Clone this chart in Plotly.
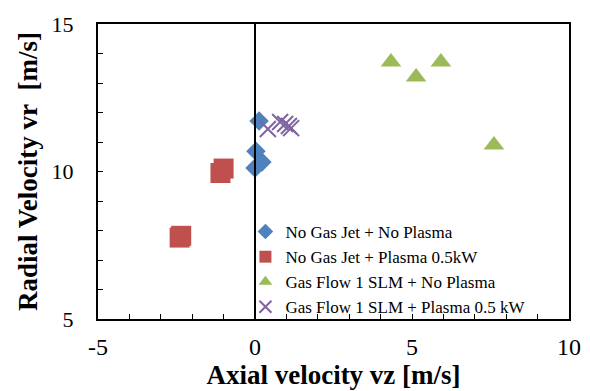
import plotly.graph_objects as go

# Data
s1_name = "No Gas Jet + No Plasma"
s1_x = [0.13, 0.03, 0.22, 0.0]
s1_y = [11.71, 10.69, 10.32, 10.12]

s2_name = "No Gas Jet + Plasma 0.5kW"
s2_x = [-1.1, -1.0, -2.4, -2.35]
s2_y = [9.95, 10.1, 7.76, 7.82]

s3_name = "Gas Flow 1 SLM + No Plasma"
s3_x = [4.33, 5.13, 5.92, 7.61]
s3_y = [13.71, 13.2, 13.71, 10.9]

s4_name = "Gas Flow 1 SLM + Plasma 0.5 kW"
s4_x = [0.41, 0.8, 0.96, 1.08, 1.15]
s4_y = [11.44, 11.68, 11.61, 11.54, 11.47]

x_ticks = [-5, 0, 5, 10]
x_tick_text = ["-5", "0", "5", "10"]
y_ticks = [5, 10, 15]
y_tick_text = ["5", "10", "15"]

FONT = "Liberation Serif"

fig = go.Figure()
fig.add_trace(go.Scatter(x=s1_x, y=s1_y, mode="markers", name=s1_name,
                         marker=dict(symbol="diamond", size=15, color="#4F81BD")))
fig.add_trace(go.Scatter(x=s2_x, y=s2_y, mode="markers", name=s2_name,
                         marker=dict(symbol="square", size=20, color="#C0504D")))
fig.add_trace(go.Scatter(x=s3_x, y=s3_y, mode="markers", name=s3_name,
                         marker=dict(symbol="triangle-up", size=18, color="#9BBB59")))
fig.add_trace(go.Scatter(x=s4_x, y=s4_y, mode="markers", name=s4_name,
                         marker=dict(symbol="x-thin", size=16, color="#8064A2",
                                     line=dict(width=2, color="#8064A2"))))

# vertical axis line at x = 0, extending a few px beyond the frame
fig.add_shape(type="line", xref="x", yref="y", x0=0, x1=0,
              ysizemode="pixel", yanchor=10, y0=-154, y1=151,
              line=dict(color="black", width=2))

fig.update_layout(
    width=590, height=391,
    margin=dict(l=98, r=21, t=24, b=72, autoexpand=False),
    paper_bgcolor="white", plot_bgcolor="white",
    font=dict(family=FONT, size=21, color="black"),
    showlegend=True,
    legend=dict(x=0.313, y=0.356, xanchor="left", yanchor="top",
                font=dict(family=FONT, size=17, color="black"),
                bgcolor="rgba(0,0,0,0)", tracegroupgap=0, itemwidth=30,
                itemsizing="constant"),
    xaxis=dict(range=[-5, 10], tickvals=x_ticks, ticktext=x_tick_text,
               ticks="inside", ticklen=5, tickwidth=1, tickcolor="black",
               showline=True, linecolor="black", linewidth=2, mirror=True,
               showgrid=False, zeroline=False, ticklabelstandoff=5, automargin=False,
               tickfont=dict(family=FONT, size=24),
               minor=dict(dtick=1, ticks="inside", ticklen=5, tickcolor="black", showgrid=False),
               title=dict(text="<b>Axial velocity vz [m/s]</b>", standoff=0,
                          font=dict(family=FONT, size=27))),
    yaxis=dict(range=[5, 15], tickvals=y_ticks, ticktext=y_tick_text,
               ticks="inside", ticklen=5, tickwidth=1, tickcolor="black",
               showline=True, linecolor="black", linewidth=2, mirror=True,
               showgrid=False, zeroline=False, ticklabelstandoff=18, automargin=False,
               tickfont=dict(family=FONT, size=22),
               minor=dict(dtick=1, ticks="inside", ticklen=5, tickcolor="black", showgrid=False),
               title=dict(text="<b>Radial Velocity vr&nbsp; [m/s]</b>", standoff=6,
                          font=dict(family=FONT, size=27))),
)

fig.write_html("out.html", config={"displayModeBar": False},
               post_script="document.body.style.margin='0';")
